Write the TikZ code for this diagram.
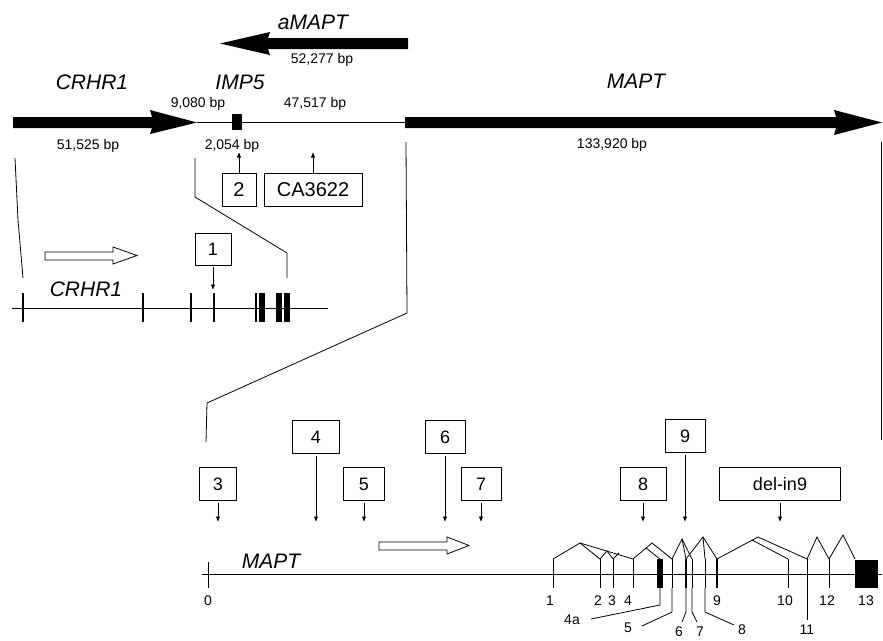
\documentclass[tikz,border=0pt]{standalone}
\usepackage{fontspec}
\setmainfont{Liberation Sans}
\usetikzlibrary{arrows.meta}

\begin{document}
\begin{tikzpicture}[x=1pt, y=-1pt, >={Latex[length=5.5pt,width=4.5pt]},
  gline/.style={line width=0.8pt},
  numbox/.style={draw, line width=0.8pt, inner sep=0pt, minimum height=33pt, font=\fontsize{18}{20}\selectfont},
  gene/.style={font=\fontsize{21}{23}\selectfont\itshape},
  bp/.style={font=\fontsize{14}{16}\selectfont},
  exnum/.style={font=\fontsize{14}{16}\selectfont}]
  \useasboundingbox (0,0) rectangle (883,640);

  % genomic overview
  \fill (408,38) -- (268,38) -- (270,32) -- (220,43.5) -- (270,55) -- (268,49) -- (408,49) -- cycle;
  \node[gene] (amapt) at (313,22) {aMAPT};
  \node[bp] (amaptbp) at (322,60) {52,277 bp};

  \fill (13,117) -- (152,117) -- (150,110) -- (197,122.5) -- (150,134) -- (152,128) -- (13,128) -- cycle;
  \draw[gline] (197,122.5) -- (406,122.5);
  \fill (232,114) rectangle (242,130);
  \fill (405,117) -- (836,117) -- (834,110) -- (882,122.5) -- (834,135) -- (836,128) -- (405,128) -- cycle;

  \node[gene] (crhr) at (92,82) {CRHR1};
  \node[gene] (imp) at (240,82) {IMP5};
  \node[gene] (mapt) at (636,81) {MAPT};
  \node[bp] (crhrbp) at (88,146) {51,525 bp};
  \node[bp] (gapa) at (198,104) {9,080 bp};
  \node[bp] (gapb) at (315,104) {47,517 bp};
  \node[bp] (impbp) at (232,146) {2,054 bp};
  \node[bp] (maptbp) at (612,145) {133,920 bp};

  \node[numbox, minimum width=34pt, font=\fontsize{20}{22}\selectfont] (b2) at (239,190) {2};
  \node[numbox, minimum width=98pt, font=\fontsize{20}{22}\selectfont] (bca) at (313,190) {CA3622};
  \coordinate (t2) at (239,152);
  \coordinate (tca) at (313,152);
  \draw[gline,->] (b2) -- (t2);
  \draw[gline,->] (bca) -- (tca);

  % zoom lines
  \draw[gline] (15,158) -- (18,220) -- (23,278);
  \draw[gline] (195,158) -- (195,197) -- (287,253) -- (287,278);
  \draw[gline] (406,142) -- (407,313) -- (207,403) -- (206,442);
  \draw[gline] (881.5,142) -- (881.5,440);

  % CRHR1 detail
  \draw[gline] (12,308) -- (328,308);
  \foreach \x in {23,143,191,214,256}
    \draw[line width=1.2pt] (\x,293) -- (\x,322);
  \fill (259,293) rectangle (265,322);
  \fill (276,293) rectangle (282,322);
  \fill (284,293) rectangle (290,322);
  \draw[gline] (45,252) -- (113,252) -- (113,247) -- (137,255.5) -- (113,264) -- (113,260) -- (45,260) -- cycle;
  \node[gene] (crhrlow) at (86,289) {CRHR1};
  \node[numbox, minimum width=36pt, minimum height=32pt] (b1) at (213,249) {1};
  \coordinate (t1) at (213,290);
  \draw[gline,->,shorten <=2pt] (b1) -- (t1);

  % MAPT detail
  \draw[gline] (202,574) -- (882,574);
  \draw[gline] (208,562) -- (208,588);
  \node[exnum] (zero) at (208,601) {0};
  \node[gene] (maptlow) at (271,561) {MAPT};
  \draw[gline] (379,542) -- (447,542) -- (447,537) -- (469,545.5) -- (447,554) -- (447,550) -- (379,550) -- cycle;

  \foreach \n/\x/\y/\w in {3/218/484/37, 4/316/437/47, 5/364/484/41, 6/445/437/40,
                           7/481/484/40, 8/643/484/46, 9/685/436/40} {
    \node[numbox, minimum width=\w pt] (b\n) at (\x,\y) {\n};
    \coordinate (t\n) at (\x,522);
    \draw[gline,->,shorten <=2pt] (b\n) -- (t\n);
  }
  \node[numbox, minimum width=121pt] (bdel) at (780,484) {del-in9};
  \coordinate (tdel) at (780,522);
  \draw[gline,->,shorten <=2pt] (bdel) -- (tdel);

  % exons
  \foreach \x in {553,600,613,633,672,692,705,788,829}
    \draw[gline] (\x,559) -- (\x,588);
  \draw[line width=2pt] (686,559) -- (686,588);
  \draw[line width=2.5pt] (717,559) -- (717,588);
  \fill (657,559) rectangle (663,588);
  \draw[gline] (807,559) -- (807,620);
  \fill (855,560) rectangle (878,588);

  % splicing
  \draw[gline] (553,559) -- (580,543) -- (633,559);
  \draw[gline] (580,543) -- (600,559);
  \draw[gline] (600,559) -- (607,551) -- (613,559);
  \draw[gline] (613,559) -- (619,553);
  \draw[gline] (633,559) -- (652,543) -- (672,559);
  \draw[gline] (646,548) -- (660,559);
  \draw[gline] (672,559) -- (682,539) -- (692,559);
  \draw[gline] (682,539) -- (686,559);
  \draw[gline] (686,559) -- (703,537) -- (717,559);
  \draw[gline] (703,537) -- (705,559);
  \draw[gline] (717,559) -- (758,537) -- (807,559);
  \draw[gline] (752,540) -- (788,559);
  \draw[gline] (807,559) -- (817,537) -- (829,559);
  \draw[gline] (829,559) -- (843,535) -- (855,559);

  \foreach \t/\x/\y in {1/550/601, 2/598/601, 3/612/601, 4/628/601, 9/717/601,
                        10/785/601, 12/827/601, 13/866/601, 4a/572/620, 5/628/628,
                        6/679/632, 7/700/632, 8/742/630, 11/807/630}
    \node[exnum] (e\t) at (\x,\y) {\t};

  \draw[gline] (660,588) -- (660,605) -- (591,619);
  \draw[gline] (672,588) -- (672,612) -- (642,626);
  \draw[gline] (686,588) -- (686,612) -- (682,622);
  \draw[gline] (692,588) -- (692,612) -- (697,622);
  \draw[gline] (705,588) -- (705,612) -- (734,625);
\end{tikzpicture}
\end{document}
